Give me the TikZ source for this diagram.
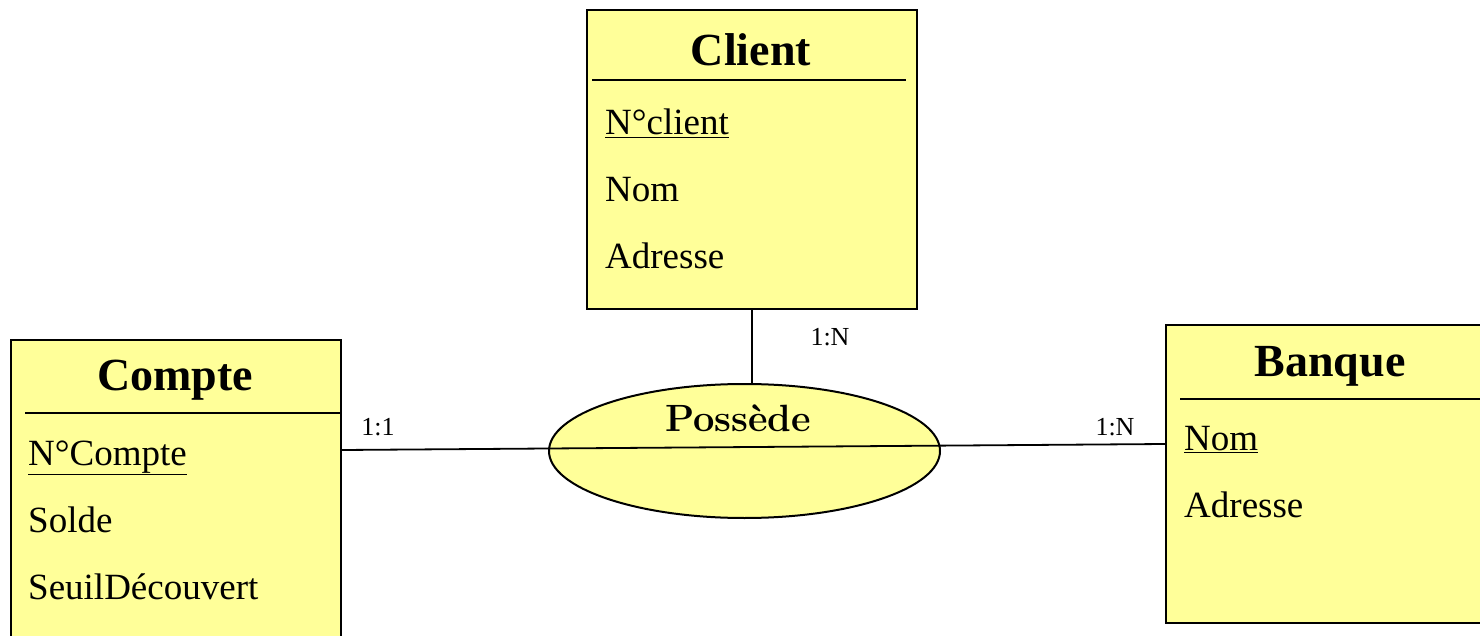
\documentclass[tikz,border=0pt]{standalone}
\usepackage{fontspec}
\newfontfamily\tnr{Liberation Serif}
\usetikzlibrary{shapes.geometric}
\definecolor{entfill}{RGB}{255,255,153}
\tikzset{
  entity/.style={draw=black, fill=entfill, line width=2.2pt, rectangle, anchor=north west, inner sep=0pt},
  relation/.style={draw=black, fill=entfill, line width=2pt, ellipse, inner sep=0pt},
  etitle/.style={font=\tnr\bfseries\fontsize{46}{50}\selectfont, anchor=center, inner sep=0pt},
  attr/.style={font=\tnr\fontsize{37}{40}\selectfont, anchor=base west, inner sep=0pt},
  card/.style={font=\tnr\fontsize{26}{28}\selectfont, anchor=center, inner sep=0pt},
  rtitle/.style={font=\bfseries\fontsize{38}{40}\selectfont, anchor=center, inner sep=0pt},
  sep/.style={line width=1.6pt},
  link/.style={line width=1.8pt}
}
\begin{document}
\begin{tikzpicture}[x=1pt,y=-1pt]
\useasboundingbox (0,0) rectangle (1480,636);
\clip (0,0) rectangle (1480,636);

% Entity Client
\node[entity, minimum width=330pt, minimum height=299pt] (client) at (586,9) {};
\node[etitle] (clientT) at (751,50) {Client};
\draw[sep] (592,80) -- (906,80);
\node[attr] (clientA1) at (605,135) {\underline{N°client}};
\node[attr] (clientA2) at (605,202) {Nom};
\node[attr] (clientA3) at (605,269) {Adresse};

% Entity Compte
\node[entity, minimum width=330pt, minimum height=340pt] (compte) at (10,339) {};
\node[etitle] (compteT) at (175,380) {Compte};
\draw[sep] (25,413) -- (340,413);
\node[attr] (compteA1) at (28,465) {\underline{N°Compte}};
\node[attr] (compteA2) at (28,532) {Solde};
\node[attr] (compteA3) at (28,599) {SeuilDécouvert};

% Entity Banque
\node[entity, minimum width=340pt, minimum height=298pt] (banque) at (1165,324) {};
\node[etitle] (banqueT) at (1330,366) {Banque};
\draw[sep] (1180,399) -- (1500,399);
\node[attr] (banqueA1) at (1184,450) {\underline{Nom}};
\node[attr] (banqueA2) at (1184,517) {Adresse};

% Relation
\node[relation, minimum width=391pt, minimum height=134pt] (possede) at (744.5,451) {};
\node[rtitle] (possedeT) at (738,418) {Possède};

% Connectors
\coordinate (cA) at (compte.north east |- 0,450);
\coordinate (bA) at (banque.north west |- 0,444);
\coordinate (pTop) at (client.south |- possede.north);
\draw[link] (cA) -- (bA);
\draw[link] (client.south) -- (pTop);

% Cardinalities
\node[card] (c1) at (830,337) {1:N};
\node[card] (c2) at (378,427) {1:1};
\node[card] (c3) at (1115,427) {1:N};
\end{tikzpicture}
\end{document}
